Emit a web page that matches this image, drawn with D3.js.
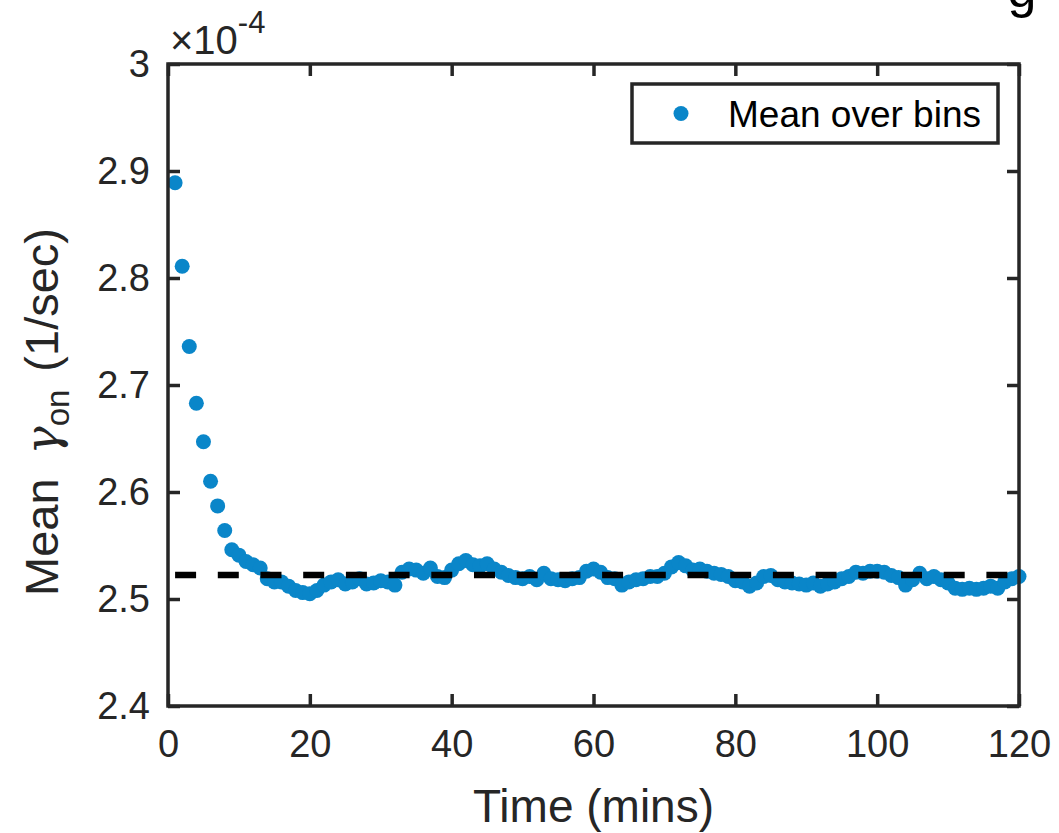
<!DOCTYPE html>
<html>
<head>
<meta charset="utf-8">
<script src="https://cdn.jsdelivr.net/npm/d3@7"></script>
<style>
  html, body { margin: 0; padding: 0; background: #fff; }
  svg { display: block; }
  text { font-family: "Liberation Sans", Helvetica, Arial, sans-serif; }
</style>
</head>
<body>
<svg id="chart" width="1059" height="833"></svg>
<script>
// ---- data (values in units of 1e-4 1/sec) ----
const times = d3.range(1, 121);
const meanGammaOn = [
  2.889, 2.811, 2.736, 2.683, 2.647, 2.610, 2.587, 2.564, 2.546, 2.541,
  2.535, 2.532, 2.529, 2.519, 2.516, 2.516, 2.512, 2.508, 2.506, 2.505,
  2.508, 2.513, 2.516, 2.518, 2.514, 2.516, 2.519, 2.514, 2.515, 2.517,
  2.516, 2.513, 2.525, 2.528, 2.527, 2.524, 2.529, 2.521, 2.520, 2.527,
  2.533, 2.536, 2.532, 2.531, 2.533, 2.528, 2.525, 2.522, 2.520, 2.519,
  2.521, 2.518, 2.524, 2.519, 2.518, 2.517, 2.519, 2.520, 2.526, 2.528,
  2.525, 2.520, 2.519, 2.513, 2.516, 2.518, 2.519, 2.521, 2.521, 2.524,
  2.530, 2.534, 2.531, 2.527, 2.528, 2.526, 2.524, 2.523, 2.521, 2.517,
  2.516, 2.512, 2.515, 2.521, 2.522, 2.518, 2.516, 2.515, 2.514, 2.513,
  2.515, 2.512, 2.514, 2.516, 2.519, 2.521, 2.525, 2.524, 2.526, 2.526,
  2.525, 2.522, 2.520, 2.513, 2.518, 2.524, 2.519, 2.521, 2.518, 2.515,
  2.510, 2.509, 2.510, 2.509, 2.510, 2.512, 2.510, 2.516, 2.519, 2.521
];
const overallMean = 2.5224;
const xTicks = [0, 20, 40, 60, 80, 100, 120];
const yTicks = [2.4, 2.5, 2.6, 2.7, 2.8, 2.9, 3.0];
const yTickLabels = ["2.4", "2.5", "2.6", "2.7", "2.8", "2.9", "3"];
const legendLabel = "Mean over bins";

// ---- layout ----
const L = 168, R = 1019, T = 64, B = 706;
const axisColor = "#262626";
const dotColor = "#0a86c9";
const svg = d3.select("#chart");

const x = d3.scaleLinear().domain([0, 120]).range([L, R]);
const y = d3.scaleLinear().domain([2.4, 3.0]).range([B, T]);

// partially clipped title (only its lower part is visible at the top edge)
svg.append("text").attr("x", 1022).attr("y", 7).attr("text-anchor", "middle")
  .attr("font-size", 52).attr("fill", "#000").text("g");

// data points
svg.append("g").selectAll("circle").data(times).join("circle")
  .attr("cx", (d) => x(d))
  .attr("cy", (d, i) => y(meanGammaOn[i]))
  .attr("r", 7.5)
  .attr("fill", dotColor);

// dashed mean line
svg.append("line")
  .attr("x1", x(times[0])).attr("x2", x(times[times.length - 1]))
  .attr("y1", y(overallMean)).attr("y2", y(overallMean))
  .attr("stroke", "#000").attr("stroke-width", 6.5)
  .attr("stroke-dasharray", "21 21.7");

// axes
const tickLen = 12;
function styleAxis(g) {
  g.select(".domain").remove();
  g.selectAll(".tick line").attr("stroke", axisColor).attr("stroke-width", 3.5);
  g.selectAll(".tick text").attr("fill", axisColor).attr("font-size", 38)
    .attr("font-family", "Liberation Sans, Helvetica, Arial, sans-serif");
}
svg.append("g").attr("transform", `translate(0,${B})`)
  .call(d3.axisBottom(x).tickValues(xTicks).tickSizeInner(-tickLen).tickSizeOuter(0).tickPadding(24))
  .call(styleAxis);
svg.append("g").attr("transform", `translate(0,${T})`)
  .call(d3.axisTop(x).tickValues(xTicks).tickSizeInner(-tickLen).tickSizeOuter(0).tickFormat(""))
  .call(styleAxis);
svg.append("g").attr("transform", `translate(${L},0)`)
  .call(d3.axisLeft(y).tickValues(yTicks).tickSizeInner(-tickLen).tickSizeOuter(0).tickPadding(18)
    .tickFormat((d, i) => yTickLabels[i]))
  .call(styleAxis);
svg.append("g").attr("transform", `translate(${R},0)`)
  .call(d3.axisRight(y).tickValues(yTicks).tickSizeInner(-tickLen).tickSizeOuter(0).tickFormat(""))
  .call(styleAxis);

// box
svg.append("rect").attr("x", L).attr("y", T).attr("width", R - L).attr("height", B - T)
  .attr("fill", "none").attr("stroke", axisColor).attr("stroke-width", 3.5);

// exponent label
const ex = svg.append("text").attr("x", 170).attr("y", 54).attr("fill", axisColor).attr("font-size", 40);
ex.append("tspan").text("\u00D710");
ex.append("tspan").attr("dy", -21).attr("font-size", 31).text("-4");

// axis titles
svg.append("text").attr("x", (L + R) / 2).attr("y", 822).attr("text-anchor", "middle")
  .attr("fill", axisColor).attr("font-size", 46).text("Time (mins)");

const yl = svg.append("text").attr("transform", `translate(58,${(T + B) / 2 + 27}) rotate(-90)`)
  .attr("text-anchor", "middle").attr("fill", axisColor).attr("font-size", 47);
yl.append("tspan").text("Mean");
yl.append("tspan").attr("dx", 24).attr("font-family", "DejaVu Serif, Liberation Serif, serif").attr("font-style", "italic").text("\u03B3");
yl.append("tspan").attr("dy", 11).attr("font-size", 33).text("on");
yl.append("tspan").attr("dy", -11).attr("dx", 18).text("(1/sec)");

// legend
const lg = svg.append("g");
lg.append("rect").attr("x", 632).attr("y", 84).attr("width", 366).attr("height", 59)
  .attr("fill", "#fff").attr("stroke", axisColor).attr("stroke-width", 3.5);
lg.append("circle").attr("cx", 681).attr("cy", 113.5).attr("r", 7.5).attr("fill", dotColor);
lg.append("text").attr("x", 728).attr("y", 127).attr("font-size", 37).attr("fill", "#000").text(legendLabel);
</script>
</body>
</html>
